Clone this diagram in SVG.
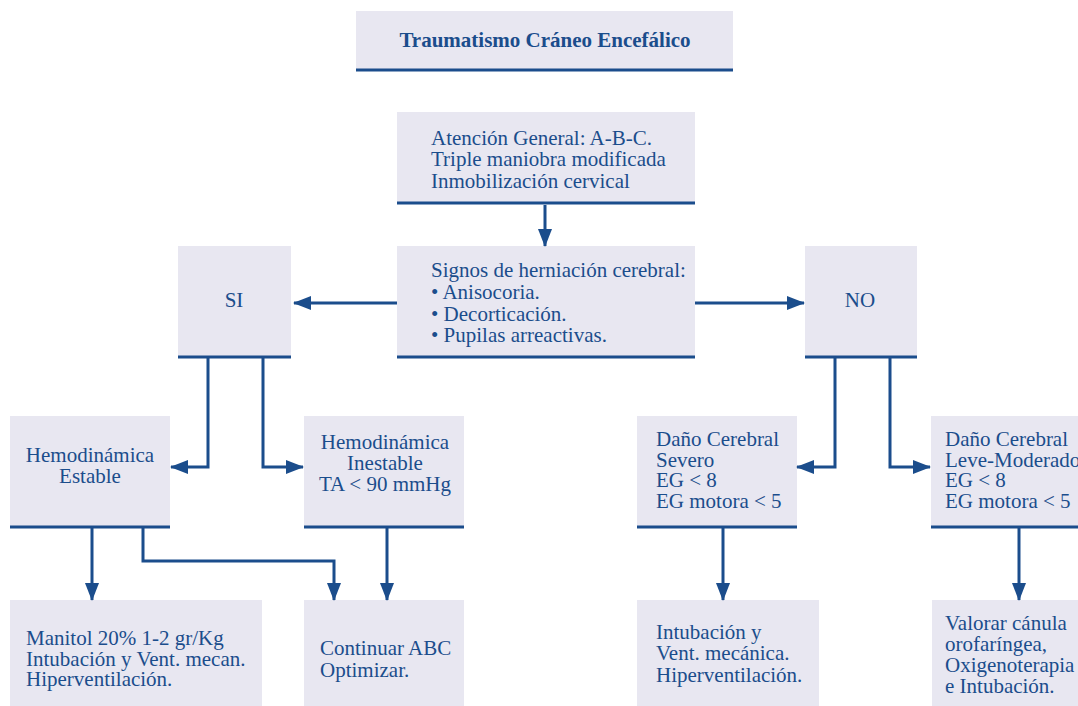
<svg xmlns="http://www.w3.org/2000/svg" width="1078" height="706" viewBox="0 0 1078 706">
  <style>
    .box { fill: #e8e7f1; }
    .rule { stroke: #1b4d8c; stroke-width: 3; fill: none; }
    .txt { font-family: "Liberation Serif", "Times New Roman", serif; font-size: 21px; fill: #1b4d8c; }
    .ttl { font-weight: bold; }
    .mid { text-anchor: middle; }
    .edge { stroke: #1b4d8c; stroke-width: 3; fill: none; marker-end: url(#head); }
  </style>
  <defs>
    <marker id="head" markerUnits="userSpaceOnUse" markerWidth="18" markerHeight="14" refX="17" refY="7" orient="auto">
      <path d="M0,0 L18,7 L0,14 z" fill="#1b4d8c"/>
    </marker>
  </defs>
  <rect width="1078" height="706" fill="#ffffff"/>

  <g id="title">
    <rect class="box" x="356" y="11" width="377" height="59"/>
    <line class="rule" x1="356" y1="70" x2="733" y2="70"/>
    <text class="txt ttl mid" x="545" y="47">Traumatismo Cráneo Encefálico</text>
  </g>

  <g id="atencion">
    <rect class="box" x="397" y="112" width="298" height="91"/>
    <line class="rule" x1="397" y1="203" x2="695" y2="203"/>
    <text class="txt" x="431" y="145">Atención General: A-B-C.</text>
    <text class="txt" x="431" y="166">Triple maniobra modificada</text>
    <text class="txt" x="431" y="188">Inmobilización cervical</text>
  </g>

  <g id="signos">
    <rect class="box" x="397" y="246" width="298" height="111"/>
    <line class="rule" x1="397" y1="357" x2="695" y2="357"/>
    <text class="txt" x="431" y="277">Signos de herniación cerebral:</text>
    <text class="txt" x="431" y="299">• Anisocoria.</text>
    <text class="txt" x="431" y="321">• Decorticación.</text>
    <text class="txt" x="431" y="342">• Pupilas arreactivas.</text>
  </g>

  <g id="si">
    <rect class="box" x="178" y="246" width="113" height="111"/>
    <line class="rule" x1="178" y1="357" x2="291" y2="357"/>
    <text class="txt mid" x="234" y="307">SI</text>
  </g>

  <g id="no">
    <rect class="box" x="805" y="246" width="112" height="111"/>
    <line class="rule" x1="805" y1="357" x2="917" y2="357"/>
    <text class="txt mid" x="860" y="307">NO</text>
  </g>

  <g id="estable">
    <rect class="box" x="10" y="416" width="160" height="111"/>
    <line class="rule" x1="10" y1="527" x2="170" y2="527"/>
    <text class="txt mid" x="90" y="462">Hemodinámica</text>
    <text class="txt mid" x="90" y="483">Estable</text>
  </g>

  <g id="inestable">
    <rect class="box" x="304" y="416" width="160" height="111"/>
    <line class="rule" x1="304" y1="527" x2="464" y2="527"/>
    <text class="txt mid" x="385" y="449">Hemodinámica</text>
    <text class="txt mid" x="385" y="470">Inestable</text>
    <text class="txt mid" x="385" y="491">TA &lt; 90 mmHg</text>
  </g>

  <g id="severo">
    <rect class="box" x="637" y="416" width="160" height="111"/>
    <line class="rule" x1="637" y1="527" x2="797" y2="527"/>
    <text class="txt" x="656" y="446">Daño Cerebral</text>
    <text class="txt" x="656" y="467">Severo</text>
    <text class="txt" x="656" y="487">EG &lt; 8</text>
    <text class="txt" x="656" y="508">EG motora &lt; 5</text>
  </g>

  <g id="leve">
    <rect class="box" x="931" y="416" width="160" height="111"/>
    <line class="rule" x1="931" y1="527" x2="1091" y2="527"/>
    <text class="txt" x="945" y="446">Daño Cerebral</text>
    <text class="txt" x="945" y="467">Leve-Moderado</text>
    <text class="txt" x="945" y="487">EG &lt; 8</text>
    <text class="txt" x="945" y="508">EG motora &lt; 5</text>
  </g>

  <g id="manitol">
    <rect class="box" x="10" y="600" width="252" height="106"/>
    <text class="txt" x="26" y="645">Manitol 20%  1-2 gr/Kg</text>
    <text class="txt" x="26" y="666">Intubación y Vent. mecan.</text>
    <text class="txt" x="26" y="686">Hiperventilación.</text>
  </g>

  <g id="continuar">
    <rect class="box" x="304" y="600" width="160" height="106"/>
    <text class="txt" x="320" y="655">Continuar ABC</text>
    <text class="txt" x="320" y="677">Optimizar.</text>
  </g>

  <g id="intubacion">
    <rect class="box" x="637" y="600" width="182" height="106"/>
    <text class="txt" x="656" y="639">Intubación y</text>
    <text class="txt" x="656" y="660">Vent. mecánica.</text>
    <text class="txt" x="656" y="682">Hiperventilación.</text>
  </g>

  <g id="valorar">
    <rect class="box" x="932" y="600" width="150" height="106"/>
    <text class="txt" x="945" y="630">Valorar cánula</text>
    <text class="txt" x="945" y="651">orofaríngea,</text>
    <text class="txt" x="945" y="672">Oxigenoterapia</text>
    <text class="txt" x="945" y="693">e Intubación.</text>
  </g>

  <g id="connectors">
    <path class="edge" d="M545,205 V246"/>
    <path class="edge" d="M397,303 H294"/>
    <path class="edge" d="M695,303 H804"/>
    <path class="edge" d="M208,358 V467 H171"/>
    <path class="edge" d="M263,358 V467 H303"/>
    <path class="edge" d="M835,358 V467 H797"/>
    <path class="edge" d="M890,358 V467 H930"/>
    <path class="edge" d="M92,528 V600"/>
    <path class="edge" d="M143,528 V561 H334 V600"/>
    <path class="edge" d="M387,528 V600"/>
    <path class="edge" d="M723,528 V600"/>
    <path class="edge" d="M1019,528 V600"/>
  </g>
</svg>
